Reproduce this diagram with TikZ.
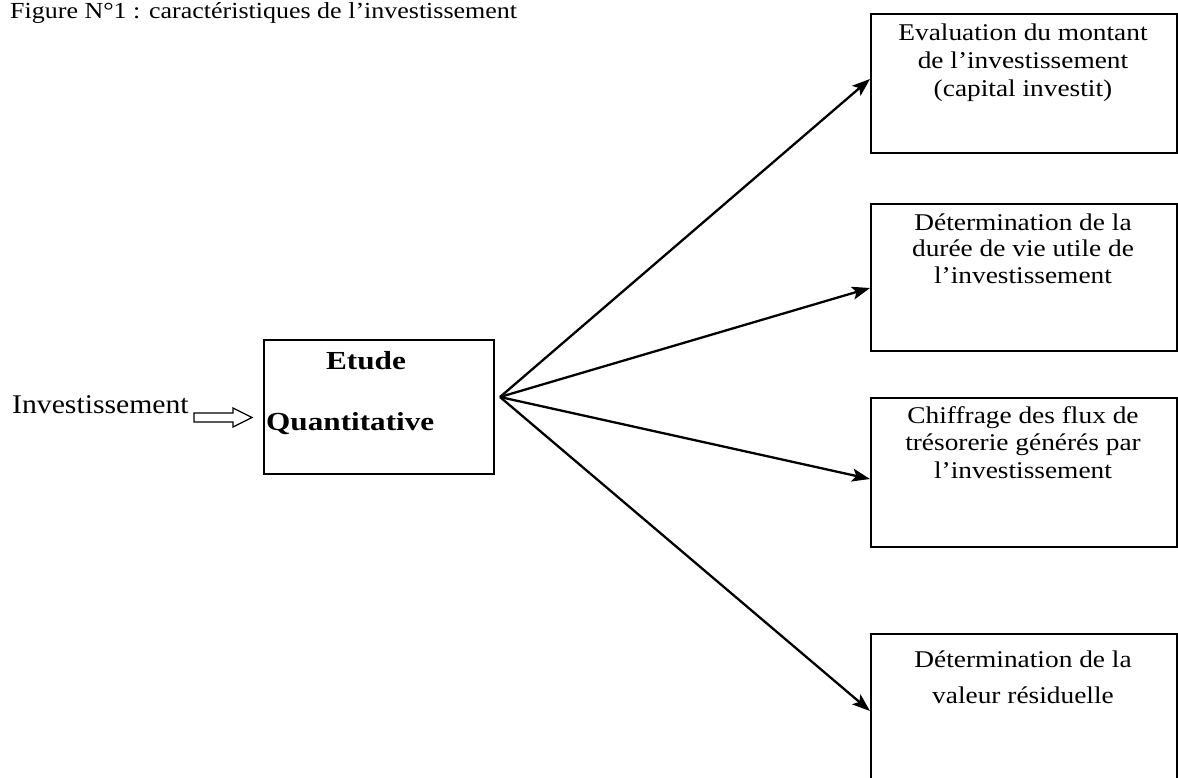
\documentclass[tikz,border=0pt]{standalone}
\usepackage{graphicx}
\usepackage{fontspec}
\setmainfont{Liberation Serif}
\usetikzlibrary{arrows.meta,calc}
\newcommand\sx[2]{\scalebox{#1}[1]{#2}}
\newcommand\bxfont[1]{\fontsize{24}{#1}\selectfont}
\begin{document}
\begin{tikzpicture}[x=1pt,y=-1pt,
 box/.style={draw, line width=2pt, minimum width=306pt, inner sep=0pt, anchor=north west},
 arr/.style={line width=2.3pt, -{Stealth[length=18pt,width=13pt,inset=4pt]}},
 txt/.style={inner sep=0pt, anchor=base},
]
\clip (0,0) rectangle (1178,778);
\fill[white] (0,0) rectangle (1178,778);
\node[txt, anchor=base west] (title) at (10,19) {\fontsize{23}{27}\selectfont\sx{1.13}{Figure N°1 : caractéristiques de l’investissement}};

\node[box, minimum height=139pt] (b1) at (870,13) {};
\node[box, minimum height=147pt] (b2) at (870,203) {};
\node[box, minimum height=149pt] (b3) at (870,397) {};
\node[box, minimum height=180pt] (b4) at (870,633) {};

\node[txt] (t1) at (1023,41) {\bxfont{28}\sx{1.14}{\begin{tabular}[t]{@{}c@{}}Evaluation du montant\\ de l’investissement\\ (capital investit)\end{tabular}}};
\node[txt] (t2) at (1023,230) {\bxfont{27}\sx{1.14}{\begin{tabular}[t]{@{}c@{}}Détermination de la\\ durée de vie utile de\\ l’investissement\end{tabular}}};
\node[txt] (t3) at (1023,423) {\bxfont{27.5}\sx{1.14}{\begin{tabular}[t]{@{}c@{}}Chiffrage des flux de\\ trésorerie générés par\\ l’investissement\end{tabular}}};
\node[txt] (t4) at (1023,667) {\bxfont{36}\sx{1.14}{\begin{tabular}[t]{@{}c@{}}Détermination de la\\ valeur résiduelle\end{tabular}}};

\node[draw, line width=2pt, minimum width=230pt, minimum height=134pt, anchor=north west, inner sep=0pt] (c) at (263,339) {};
\node[txt] (etude) at (366,369) {\bfseries\fontsize{26}{30}\selectfont\sx{1.2}{Etude}};
\node[txt, anchor=base west] (quant) at (266,430) {\bfseries\fontsize{26}{30}\selectfont\sx{1.2}{Quantitative}};

\node[txt, anchor=base west] (inv) at (12,413) {\fontsize{27}{32}\selectfont\sx{1.1}{Investissement}};
\coordinate (ha) at (194,417);
\draw[line width=1.3pt, line join=miter] (ha) ++(0,-4) -- ++(39,0) -- ++(0,-5) -- ++(19,9.5) -- ++(-19,9.5) -- ++(0,-5) -- ++(-39,0) -- cycle;

\coordinate (hub) at (500,397);
\draw[arr] (hub) -- ([yshift=4.5pt]b1.west);
\draw[arr] (hub) -- ([yshift=-10.5pt]b2.west);
\draw[arr] (hub) -- ([yshift=-6.5pt]b3.west);
\draw[arr] (hub) -- ([yshift=13pt]b4.west);
\end{tikzpicture}
\end{document}
